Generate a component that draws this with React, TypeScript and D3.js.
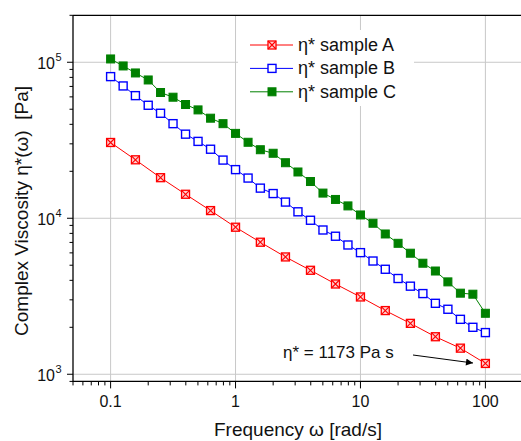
import React from 'react';
import * as d3 from 'd3';

// frequencies [rad/s]
const freqAB = [0.1, 0.126, 0.158, 0.2, 0.251, 0.316, 0.398, 0.501, 0.631, 0.794, 1, 1.26, 1.58, 2, 2.51, 3.16, 3.98, 5.01, 6.31, 7.94, 10, 12.6, 15.8, 20, 25.1, 31.6, 39.8, 50.1, 63.1, 79.4, 100];
const freqA = [0.1, 0.158, 0.251, 0.398, 0.631, 1, 1.58, 2.51, 3.98, 6.31, 10, 15.8, 25.1, 39.8, 63.1, 100];

// complex viscosity [Pa]
const etaA = [30600, 23700, 18200, 14250, 11200, 8760, 7020, 5650, 4640, 3790, 3130, 2560, 2120, 1740, 1470, 1173];
const etaB = [80900, 70500, 61100, 53000, 47100, 40400, 34600, 31100, 27700, 23600, 20500, 18100, 15600, 14400, 12700, 11000, 9710, 8410, 7670, 6740, 6020, 5320, 4710, 4110, 3670, 3290, 2850, 2610, 2250, 2000, 1850];
const etaC = [105000, 94700, 85400, 77000, 64000, 59700, 53600, 49500, 43800, 40400, 35000, 30700, 27500, 26100, 22700, 19800, 17200, 14500, 13200, 12000, 10500, 9290, 7930, 6910, 5970, 5150, 4590, 3910, 3310, 3260, 2460];

const seriesNames = ['η* sample A', 'η* sample B', 'η* sample C'];
const xTickLabels = ['0.1', '1', '10', '100'];
const yTickExp = ['3', '4', '5'];

const FONT = 'Arial, "Liberation Sans", sans-serif';
const colour = { A: '#ff0000', B: '#0000ff', C: '#008000' };

const Marker = ({ kind, cx, cy }: { kind: string; cx: number; cy: number }) => {
  const s = 4;
  if (kind === 'A') {
    return (
      <g>
        <rect x={cx - s} y={cy - s} width={2 * s} height={2 * s} fill="#ffd0d0" stroke={colour.A} strokeWidth={1.3} />
        <path d={`M${cx - s},${cy - s}L${cx + s},${cy + s}M${cx + s},${cy - s}L${cx - s},${cy + s}`} stroke={colour.A} strokeWidth={1.1} />
      </g>
    );
  }
  if (kind === 'B') {
    return <rect x={cx - s} y={cy - s} width={2 * s} height={2 * s} fill="white" stroke={colour.B} strokeWidth={1.4} />;
  }
  return <rect x={cx - s} y={cy - s} width={2 * s} height={2 * s} fill={colour.C} stroke={colour.C} strokeWidth={1} />;
};

const App = () => {
  const width = 521, height = 441;
  const x = d3.scaleLog().domain([0.05, 200]).range([73, 523]);
  const y = d3.scaleLog().domain([900, 2e5]).range([381.4, 15.3]);
  const left = 73, bottom = y(900), top = y(2e5), right = width;

  const isMajor = (v: number) => Math.abs(Math.log10(v) - Math.round(Math.log10(v))) < 1e-6;
  const line = d3.line<[number, number]>().x(d => x(d[0])).y(d => y(d[1]));

  const series = [
    { key: 'A', fx: freqA, vy: etaA },
    { key: 'B', fx: freqAB, vy: etaB },
    { key: 'C', fx: freqAB, vy: etaC },
  ];

  const xMajors = [0.1, 1, 10, 100];
  const yMajors = [1e3, 1e4, 1e5];

  return (
    <div style={{ position: 'absolute', left: 0, top: 0 }}>
      <svg width={width} height={height} style={{ display: 'block', background: 'white' }} fontFamily={FONT}>
        <defs>
          <marker id="arr" viewBox="0 0 10 10" refX="10" refY="5" markerWidth="9" markerHeight="7" orient="auto" markerUnits="userSpaceOnUse">
            <path d="M0,0L10,5L0,10z" fill="black" />
          </marker>
        </defs>
        {/* grid */}
        {xMajors.map(v => (
          <line key={'gx' + v} x1={x(v)} x2={x(v)} y1={top} y2={bottom} stroke="#c8c8c8" strokeWidth={1} />
        ))}
        {yMajors.map(v => (
          <line key={'gy' + v} x1={left} x2={right} y1={y(v)} y2={y(v)} stroke="#c8c8c8" strokeWidth={1} />
        ))}

        {/* legend box */}
        <rect x={238} y={30} width={176} height={76} fill="white" />

        {/* series */}
        {series.map(s => (
          <path key={'l' + s.key} d={line(s.fx.map((f, i) => [f, s.vy[i]] as [number, number])) || ''} fill="none" stroke={colour[s.key as 'A']} strokeWidth={1} />
        ))}
        {series.map(s => (
          <g key={'m' + s.key}>
            {s.fx.map((f, i) => <Marker key={i} kind={s.key} cx={x(f)} cy={y(s.vy[i])} />)}
          </g>
        ))}

        {/* axes frame */}
        <line x1={left} x2={left} y1={top} y2={bottom + 0.5} stroke="black" strokeWidth={1.3} />
        <line x1={left} x2={right} y1={bottom} y2={bottom} stroke="black" strokeWidth={1.3} />
        <line x1={left} x2={right} y1={top} y2={top} stroke="black" strokeWidth={1.3} />

        {x.ticks().map((v, i) => (
          <line key={'tx' + i} x1={x(v)} x2={x(v)} y1={bottom} y2={bottom + (isMajor(v) ? 7 : 4)} stroke="black" strokeWidth={1} />
        ))}
        {y.ticks().map((v, i) => (
          <line key={'ty' + i} x1={left} x2={left - (isMajor(v) ? 6 : 3.5)} y1={y(v)} y2={y(v)} stroke="black" strokeWidth={1} />
        ))}

        {xMajors.map((v, i) => (
          <text key={'lx' + i} x={x(v)} y={407} textAnchor="middle" fontSize={16} fill="#111">{xTickLabels[i]}</text>
        ))}
        {yMajors.map((v, i) => (
          <text key={'ly' + i} x={55} y={y(v) + 6.5} textAnchor="end" fontSize={16} fill="#111">
            10
            <tspan x={55.5} dy={-8} fontSize={11} textAnchor="start">{yTickExp[i]}</tspan>
          </text>
        ))}

        <text x={298} y={436} textAnchor="middle" fontSize={19} fill="#111">Frequency ω [rad/s]</text>
        <text transform={`translate(28,${211}) rotate(-90)`} textAnchor="middle" fontSize={19} fill="#111" style={{ whiteSpace: 'pre' }}>
          {'Complex Viscosity η*(ω)  [Pa]'}
        </text>

        {/* legend */}
        {series.map((s, i) => {
          const ly = 45 + i * 23.4;
          return (
            <g key={'lg' + s.key}>
              <line x1={250} x2={293} y1={ly} y2={ly} stroke={colour[s.key as 'A']} strokeWidth={1} />
              <Marker kind={s.key} cx={272} cy={ly} />
              <text x={298} y={ly + 6} fontSize={18} fill="#111">{seriesNames[i]}</text>
            </g>
          );
        })}

        {/* annotation */}
        <text x={283} y={358} fontSize={17} fill="#111">η* = 1173 Pa s</text>
        <line x1={413} y1={355} x2={473} y2={363} stroke="black" strokeWidth={1} markerEnd="url(#arr)" />
      </svg>
    </div>
  );
};

export default App;
